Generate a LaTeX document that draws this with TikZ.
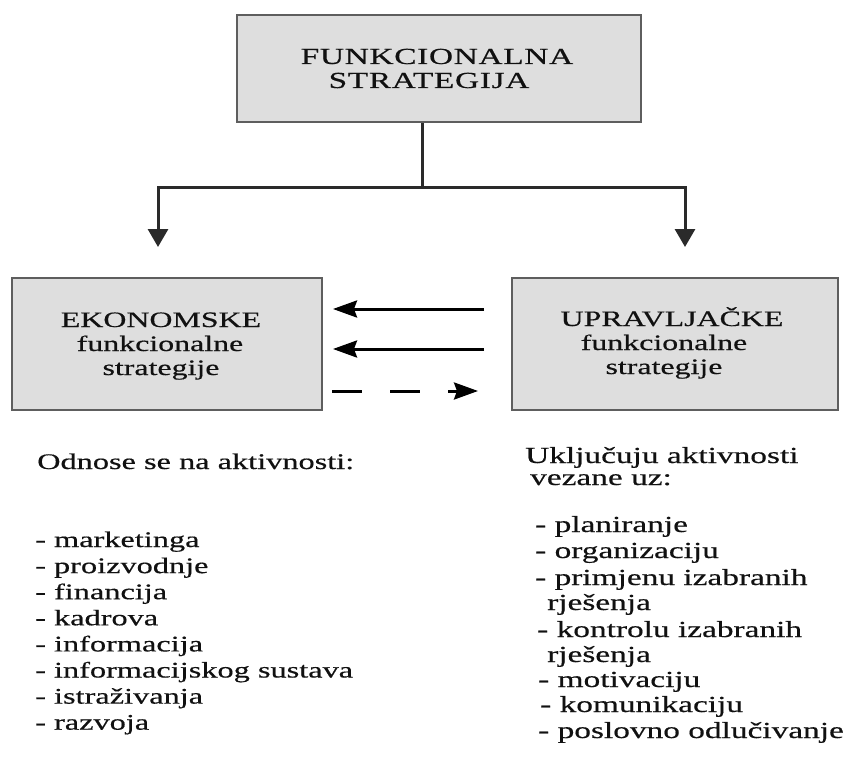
\documentclass[tikz,border=0pt]{standalone}
\usepackage{fontspec}
\setmainfont{Liberation Serif}[FakeStretch=1.45,FakeBold=0.5]
\usetikzlibrary{arrows.meta}
\definecolor{boxfill}{HTML}{DEDEDE}
\definecolor{boxline}{HTML}{5E5E5E}
\definecolor{conncol}{HTML}{2A2A2A}
\definecolor{txt}{HTML}{111111}
\begin{document}
\begin{tikzpicture}[x=1pt,y=-1pt,
  box/.style={draw=boxline,line width=2pt,fill=boxfill,inner sep=0pt},
  ln/.style={anchor=base,inner sep=0pt,text=txt,font=\fontsize{22}{20}\selectfont},
  bigln/.style={ln,font=\fontsize{23}{20}\selectfont\addfontfeature{LetterSpace=3}},
  item/.style={anchor=base west,inner sep=0pt,text=txt,font=\fontsize{22.3}{26}\selectfont},
  ritem/.style={item,font=\fontsize{23}{26}\selectfont},
  conn/.style={draw=conncol,line width=3pt},
  downarrow/.style={conn,-{Triangle[length=18pt,width=20pt]}},
  sidearrow/.style={draw=black,line width=3pt,-{Stealth[length=24pt,width=17pt,inset=3pt]}},
  dasharrow/.style={sidearrow,dash pattern=on 30pt off 28pt}]
\useasboundingbox (0,0) rectangle (845,762);
% boxes
\node[box,minimum width=404pt,minimum height=107pt] (top) at (439,68.5) {};
\node[box,minimum width=310pt,minimum height=132pt] (eko) at (167,344) {};
\node[box,minimum width=326pt,minimum height=132pt] (upr) at (675,344) {};
% box texts
\node[bigln] (t1) at (437,64) {FUNKCIONALNA};
\node[bigln] (t2) at (429,88) {STRATEGIJA};
\node[ln] (e1) at (161,327) {EKONOMSKE};
\node[ln] (e2) at (160,351) {funkcionalne};
\node[ln] (e3) at (161,375) {strategije};
\node[ln] (u1) at (672,326) {UPRAVLJAČKE};
\node[ln] (u2) at (664,350) {funkcionalne};
\node[ln] (u3) at (664,374) {strategije};
% connectors from top box
\coordinate (split) at (422,187);
\coordinate (lt) at (158,247);
\coordinate (rt) at (685,247);
\draw[conn] (top.south -| split) -- (split);
\draw[downarrow] (split) -| (lt);
\draw[downarrow] (split) -| (rt);
% arrows between boxes
\coordinate (a1s) at (484,309);
\coordinate (a1e) at (333,309);
\coordinate (a2s) at (484,349);
\coordinate (a2e) at (333,349);
\coordinate (a3s) at (332,391);
\coordinate (a3e) at (478,391);
\draw[sidearrow] (a1s) -- (a1e);
\draw[sidearrow] (a2s) -- (a2e);
\draw[dasharrow] (a3s) -- (a3e);
% left list
\node[item] (lh) at (37,469) {Odnose se na aktivnosti:};
\foreach \t [count=\i] in {marketinga,proizvodnje,financija,kadrova,informacija,informacijskog sustava,istraživanja,razvoja}
  \node[item] (l\i) at (35,{547+(\i-1)*26.1}) {- \t};
% right list
\node[ritem] (rh1) at (525,463) {Uključuju aktivnosti};
\node[ritem] (rh2) at (530,485) {vezane uz:};
\foreach \x/\y/\t [count=\i] in {535/532/{- planiranje},535/558/{- organizaciju},535/585/{- primjenu izabranih},547/610/{rješenja},537/637/{- kontrolu izabranih},547/662/{rješenja},538/687/{- motivaciju},540/712/{- komunikaciju},538/738/{- poslovno odlučivanje}}
  \node[ritem] (r\i) at (\x,\y) {\t};
\end{tikzpicture}
\end{document}
